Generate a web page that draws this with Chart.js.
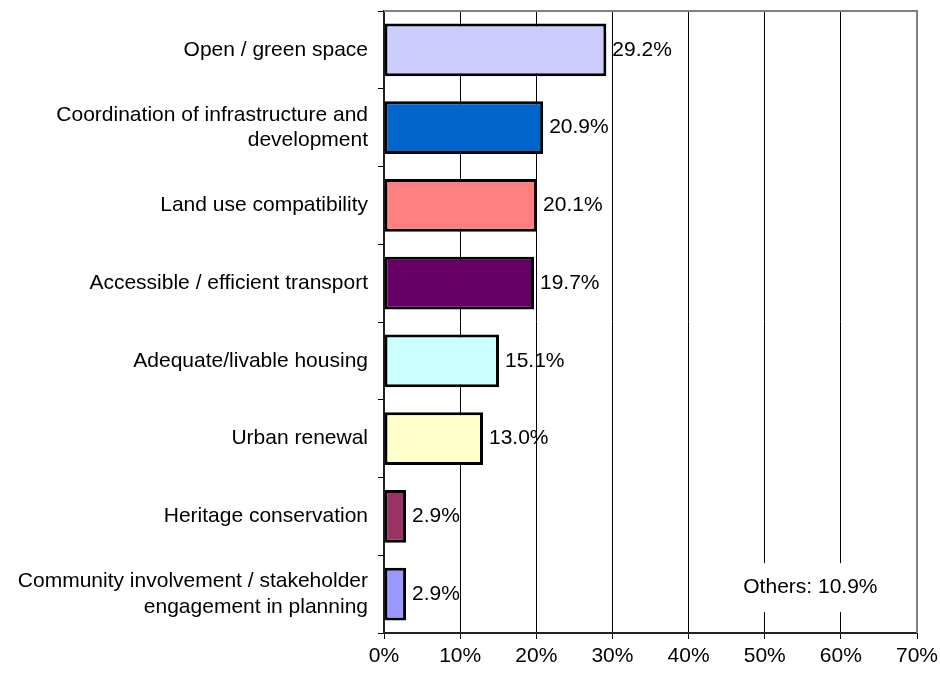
<!DOCTYPE html>
<html>
<head>
<meta charset="utf-8">
<script src="https://cdn.jsdelivr.net/npm/chart.js@4.4.1/dist/chart.umd.min.js"></script>
<style>
  html, body { margin: 0; padding: 0; background: #fff; }
  #wrap { width: 940px; height: 675px; position: relative; }
</style>
</head>
<body>
<div id="wrap"><canvas id="myChart"></canvas></div>
<script>
const categories = [
  "Open / green space",
  ["Coordination of infrastructure and", "development"],
  "Land use compatibility",
  "Accessible / efficient transport",
  "Adequate/livable housing",
  "Urban renewal",
  "Heritage conservation",
  ["Community involvement / stakeholder", "engagement in planning"],
];
const shares = [29.2, 20.9, 20.1, 19.7, 15.1, 13.0, 2.9, 2.9];
const barColors = ["#CCCCFF", "#0066CC", "#FF8080", "#660066", "#CCFFFF", "#FFFFCC", "#993366", "#9999FF"];
const xTicks = [0, 10, 20, 30, 40, 50, 60, 70];
const othersNote = "Others: 10.9%";

const FONT = "'Liberation Sans', Arial, sans-serif";
Chart.defaults.font.family = FONT;
Chart.defaults.font.size = 21;
Chart.defaults.color = "#000";

// value labels, gray frame and the "Others" note
const extras = {
  id: "extras",
  afterDatasetsDraw(chart) {
    const { ctx, chartArea } = chart;
    const meta = chart.getDatasetMeta(0);
    ctx.save();
    ctx.font = "21px " + FONT;
    ctx.fillStyle = "#000";
    ctx.textAlign = "left";
    ctx.textBaseline = "middle";
    meta.data.forEach((bar, i) => {
      ctx.fillText(shares[i].toFixed(1) + "%", bar.x + 6, bar.y);
    });

    // top + right border
    ctx.strokeStyle = "#808080";
    ctx.lineWidth = 2;
    ctx.beginPath();
    ctx.moveTo(chartArea.left, chartArea.top);
    ctx.lineTo(chartArea.right, chartArea.top);
    ctx.lineTo(chartArea.right, chartArea.bottom);
    ctx.stroke();

    // others note
    const x = chart.scales.x.getPixelForValue(56);
    const y = chart.scales.y.getPixelForValue(categories.length - 1) - 7;
    const w = ctx.measureText(othersNote).width + 20;
    ctx.fillStyle = "#fff";
    ctx.fillRect(x - w / 2, y - 24, w, 49);
    ctx.fillStyle = "#000";
    ctx.textAlign = "center";
    ctx.fillText(othersNote, x, y);
    ctx.restore();
  },
};

new Chart("myChart", {
  type: "bar",
  data: {
    labels: categories,
    datasets: [
      {
        data: shares,
        backgroundColor: barColors,
        borderColor: "#000",
        borderWidth: 3,
        borderSkipped: false,
        categoryPercentage: 1,
        barPercentage: 0.68,
      },
    ],
  },
  options: {
    indexAxis: "y",
    responsive: true,
    maintainAspectRatio: false,
    animation: false,
    layout: { padding: { top: 11, right: 23, left: 0, bottom: 0 } },
    plugins: {
      legend: { display: false },
      tooltip: { enabled: false },
    },
    scales: {
      x: {
        min: xTicks[0],
        max: xTicks[xTicks.length - 1],
        ticks: {
          stepSize: 10,
          padding: 5,
          callback: (v) => v + "%",
        },
        grid: { color: "#000", lineWidth: 1, tickLength: 6 },
        border: { color: "#222", width: 2 },
        afterFit: (scale) => {
          scale.height = 42;
          scale.paddingRight = 0;
        },
      },
      y: {
        ticks: { padding: 10 },
        grid: {
          drawOnChartArea: false,
          offset: true,
          color: "#000",
          tickLength: 6,
        },
        border: { color: "#222", width: 2 },
        afterFit: (scale) => {
          scale.width = 384;
          scale.paddingTop = 0;
          scale.paddingBottom = 0;
        },
      },
    },
  },
  plugins: [extras],
});
</script>
</body>
</html>
